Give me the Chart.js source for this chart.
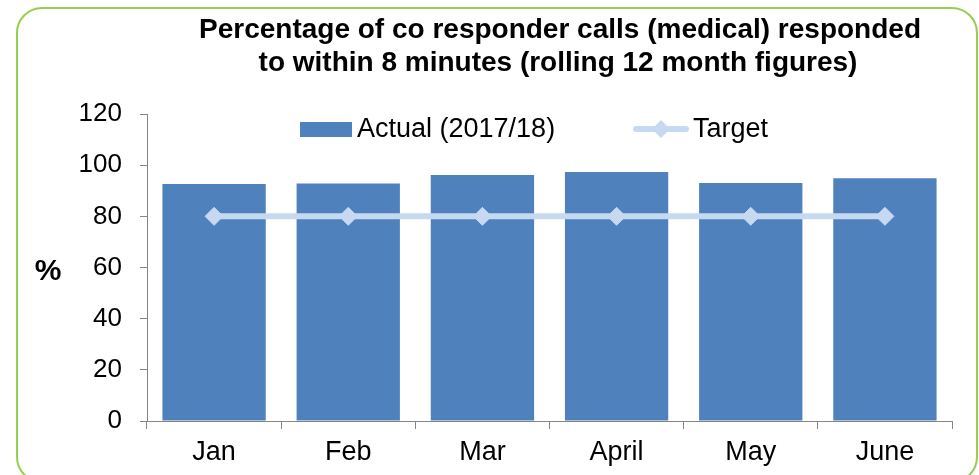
<!DOCTYPE html>
<html>
<head>
<meta charset="utf-8">
<title>Co responder calls (medical) responded to within 8 minutes</title>
<script src="https://cdn.jsdelivr.net/npm/chart.js@4.4.0/dist/chart.umd.min.js"></script>
<style>
  html, body { margin: 0; padding: 0; background: #fff; }
  #wrap { position: relative; width: 979px; height: 475px; overflow: hidden; }
  #wrap canvas { position: absolute; left: 0; top: 0; }
  #frame {
    position: absolute; left: 16px; top: 7px; width: 962px; height: 476px;
    border: 2px solid #92d050; border-radius: 26px; box-sizing: border-box;
    pointer-events: none;
  }
</style>
</head>
<body>
<div id="wrap">
  <canvas id="calls-chart" width="979" height="475"></canvas>
  <div id="frame"></div>
</div>
<script>
const months = ['Jan', 'Feb', 'Mar', 'April', 'May', 'June'];
const actual = [92.6, 92.8, 96.2, 97.3, 93.0, 94.9];
const target = [80, 80, 80, 80, 80, 80];
const yTicks = [0, 20, 40, 60, 80, 100, 120];
const titleLines = [
  'Percentage of co responder calls (medical) responded',
  'to within 8 minutes (rolling 12 month figures)'
];

const FONT = '"Liberation Sans", Arial, sans-serif';
const BAR_BLUE = '#4f81bd';
const TARGET_BLUE = '#c6d9f1';
const AXIS_GREY = '#868686';

// title, "%" axis label and the legend sit at fixed spots around the plot
const decorations = {
  id: 'decorations',
  afterDraw(chart) {
    const ctx = chart.ctx;
    ctx.save();
    ctx.fillStyle = '#000';
    ctx.textBaseline = 'alphabetic';
    ctx.textAlign = 'center';
    ctx.font = 'bold 28px ' + FONT;
    ctx.fillText(titleLines[0], 560, 38);
    ctx.fillText(titleLines[1], 558, 71);

    ctx.font = 'bold 30px ' + FONT;
    ctx.textBaseline = 'middle';
    ctx.fillText('%', 48, 272);

    // legend
    const bars = chart.data.datasets.find(d => d.type !== 'line');
    const line = chart.data.datasets.find(d => d.type === 'line');
    const ly = 129;
    ctx.font = '27px ' + FONT;
    ctx.textAlign = 'left';

    ctx.fillStyle = bars.backgroundColor;
    ctx.fillRect(300, 122, 52, 15);
    ctx.fillStyle = '#000';
    ctx.fillText(bars.label, 357, ly + 1);

    ctx.strokeStyle = line.borderColor;
    ctx.lineWidth = line.borderWidth;
    ctx.lineCap = 'round';
    ctx.beginPath();
    ctx.moveTo(636, ly);
    ctx.lineTo(686, ly);
    ctx.stroke();
    ctx.fillStyle = line.pointBackgroundColor;
    ctx.beginPath();
    ctx.moveTo(661, ly - 9);
    ctx.lineTo(670, ly);
    ctx.lineTo(661, ly + 9);
    ctx.lineTo(652, ly);
    ctx.closePath();
    ctx.fill();
    ctx.fillStyle = '#000';
    ctx.fillText(line.label, 693, ly + 1);
    ctx.restore();
  }
};

const ctx = document.getElementById('calls-chart').getContext('2d');
const chart = new Chart(ctx, {
  type: 'bar',
  data: {
    labels: months,
    datasets: [
      {
        type: 'line',
        label: 'Target',
        data: target,
        borderColor: TARGET_BLUE,
        borderWidth: 6,
        pointStyle: 'rectRot',
        pointRadius: 9,
        pointBorderWidth: 1,
        pointBackgroundColor: TARGET_BLUE,
        pointBorderColor: TARGET_BLUE,
        order: 1
      },
      {
        type: 'bar',
        label: 'Actual (2017/18)',
        data: actual,
        backgroundColor: BAR_BLUE,
        borderWidth: 0,
        barPercentage: 0.77,
        categoryPercentage: 1.0,
        order: 2
      }
    ]
  },
  options: {
    responsive: false,
    animation: false,
    layout: { padding: { top: 114, left: 20, right: 27, bottom: 0 } },
    plugins: {
      legend: { display: false },
      title: { display: false },
      tooltip: { enabled: false }
    },
    scales: {
      x: {
        afterFit: scale => { scale.height = 54; },
        grid: {
          offset: true,
          drawOnChartArea: false,
          tickLength: 8,
          color: AXIS_GREY
        },
        border: { color: AXIS_GREY, width: 1 },
        ticks: { color: '#000', font: { family: FONT, size: 27 }, padding: 7 }
      },
      y: {
        min: 0,
        max: 120,
        afterFit: scale => { scale.width = 127; },
        afterBuildTicks: scale => { scale.ticks = yTicks.map(v => ({ value: v })); },
        grid: {
          drawOnChartArea: false,
          tickLength: 7,
          color: AXIS_GREY
        },
        border: { color: AXIS_GREY, width: 1 },
        ticks: { color: '#000', font: { family: FONT, size: 26 }, padding: 18 }
      }
    }
  },
  plugins: [decorations]
});
</script>
</body>
</html>
